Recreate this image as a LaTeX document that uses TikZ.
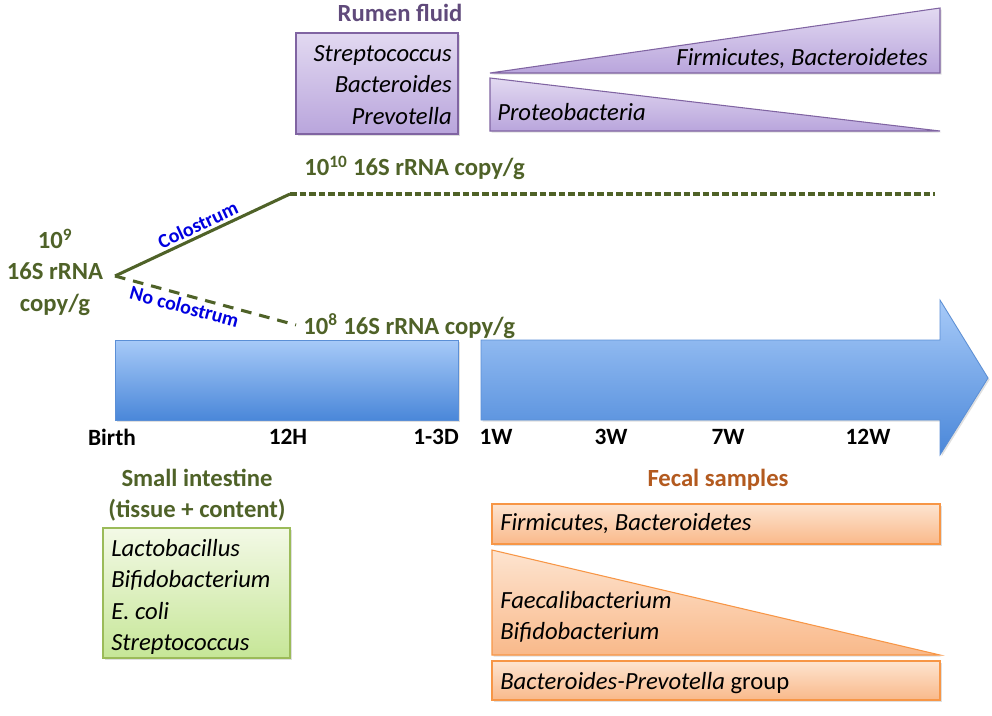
\documentclass[tikz,border=0pt]{standalone}
\usepackage{fontspec}
\setmainfont{Carlito}
\usetikzlibrary{shadows}
\definecolor{grn}{HTML}{4F6228}
\definecolor{purp}{HTML}{604A7B}
\definecolor{purpline}{HTML}{8064A2}
\definecolor{purplight}{HTML}{E2D9F1}
\definecolor{purpdark}{HTML}{B9A5DC}
\definecolor{bluelight}{HTML}{A7CAF8}
\definecolor{bluedark}{HTML}{4A87D9}
\definecolor{blueline}{HTML}{5B8FD6}
\definecolor{orgline}{HTML}{F79646}
\definecolor{orglight}{HTML}{FDE4D0}
\definecolor{orgdark}{HTML}{F9B98A}
\definecolor{orgtext}{HTML}{B35A1F}
\definecolor{grnline}{HTML}{9BBB59}
\definecolor{grnlight}{HTML}{F3F9E6}
\definecolor{grndark}{HTML}{C6E697}
\definecolor{lblue}{HTML}{0000E0}
\tikzset{
  shd/.style={drop shadow={opacity=0.25,shadow xshift=1.2pt,shadow yshift=-1.2pt}},
  purpfill/.style={draw=purpline,line width=0.8pt,top color=purplight,bottom color=purpdark,shd},
  orgfill/.style={draw=orgline,line width=0.8pt,top color=orglight,bottom color=orgdark,shd},
  grnfill/.style={draw=grnline,line width=0.8pt,top color=grnlight,bottom color=grndark,shd},
  bluefill/.style={draw=blueline,line width=0.6pt,top color=bluelight,bottom color=bluedark,shd},
  gtxt/.style={text=grn,font=\fontsize{18.5}{23.5}\selectfont\bfseries,inner sep=0pt},
  itx/.style={font=\fontsize{18.5}{23.5}\selectfont\itshape,inner sep=0pt},
  tick/.style={font=\fontsize{17.5}{20}\selectfont\bfseries,inner sep=0pt},
  lbl/.style={text=lblue,font=\fontsize{15}{17}\selectfont\bfseries,inner sep=2pt},
}
\begin{document}
\begin{tikzpicture}[x=0.75pt,y=-0.75pt]
\useasboundingbox (0,0) rectangle (992,715);
% Rumen fluid
\node[text=purp,font=\fontsize{18.5}{22}\selectfont\bfseries,inner sep=0pt] (rumen) at (400,13) {Rumen fluid};
\path[purpfill] (296,33) rectangle (458,134);
\node[itx,align=right,anchor=east] (rbox) at (452,85) {Streptococcus\\Bacteroides\\Prevotella};
\path[purpfill] (490,73) -- (940,8) -- (940,73) -- cycle;
\path[purpfill] (490,78) -- (940,131) -- (490,131) -- cycle;
\node[itx,anchor=east] (firm1) at (928,59) {Firmicutes, Bacteroidetes};
\node[itx,anchor=west] (prot) at (497,112) {Proteobacteria};
% levels
\node[gtxt,anchor=west] (l10) at (304,168) {10\textsuperscript{10} 16S rRNA copy/g};
\coordinate (top0) at (290,194);
\coordinate (top1) at (935,194);
\draw[grn,line width=2.3pt,dash pattern=on 5pt off 2.2pt] (top0) -- (top1);
\node[gtxt,align=center] (l9) at (55,272) {10\textsuperscript{9}\\16S rRNA\\copy/g};
\coordinate (start) at (115,276);
\coordinate (low) at (296,325);
\draw[grn,line width=2.3pt] (start) -- node[lbl,above,sloped,pos=0.5] {Colostrum} (top0);
\draw[grn,line width=2.3pt,dash pattern=on 8pt off 6pt] (start) -- node[lbl,below,sloped,pos=0.4] {No colostrum} (low);
\node[gtxt,anchor=west] (l8) at (303,326) {10\textsuperscript{8} 16S rRNA copy/g};
% timeline
\path[bluefill] (115,340) rectangle (458,420);
\path[bluefill] (481,340) -- (940,340) -- (940,300) -- (988,378) -- (940,455) -- (940,420) -- (481,420) -- cycle;
\node[tick] (t1) at (112,437) {Birth};
\node[tick] (t2) at (288,437) {12H};
\node[tick] (t3) at (436,437) {1-3D};
\node[tick] (t4) at (496,437) {1W};
\node[tick] (t5) at (611,437) {3W};
\node[tick] (t6) at (728,437) {7W};
\node[tick] (t7) at (868,437) {12W};
% small intestine
\node[gtxt,align=center] (si) at (197,495) {Small intestine\\(tissue + content)};
\path[grnfill] (103,528) rectangle (290,658);
\node[itx,align=left,anchor=west] (sibox) at (111,597) {Lactobacillus\\Bifidobacterium\\E. coli\\Streptococcus};
% fecal
\node[text=orgtext,font=\fontsize{18.5}{22}\selectfont\bfseries,inner sep=0pt] (fecal) at (718,480) {Fecal samples};
\path[orgfill] (492,504) rectangle (940,544);
\node[itx,anchor=west] (ff) at (500,524) {Firmicutes, Bacteroidetes};
\path[orgfill] (492,550) -- (940,655) -- (492,655) -- cycle;
\node[itx,anchor=west,align=left] (fb) at (500,617) {Faecalibacterium\\Bifidobacterium};
\path[orgfill] (492,661) rectangle (940,700);
\node[itx,anchor=west] (bp) at (500,683) {Bacteroides-Prevotella \upshape group};
\end{tikzpicture}
\end{document}
